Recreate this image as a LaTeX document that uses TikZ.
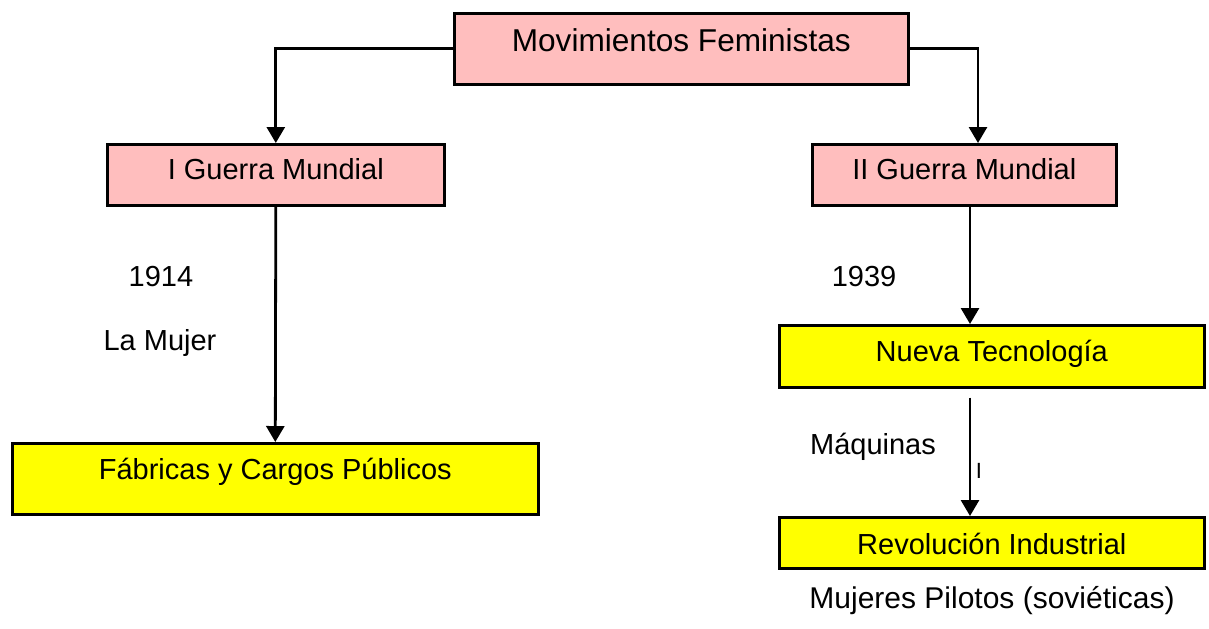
\documentclass[tikz,border=0pt]{standalone}
\usepackage{fontspec}
\setmainfont{Liberation Sans}
\usetikzlibrary{arrows.meta}

\definecolor{rosa}{RGB}{255,190,190}
\definecolor{amarillo}{RGB}{255,255,0}

\begin{document}
\begin{tikzpicture}[x=0.5pt,y=-0.5pt,
box/.style = {draw, line width=1.3pt, inner sep=0pt, anchor=north west, align=center, font=\fontsize{14.5}{17}\selectfont},
pinkbox/.style = {box, fill=rosa},
yellowbox/.style = {box, fill=amarillo},
note/.style = {font=\fontsize{14.5}{17}\selectfont},
link/.style = {line width=1.4pt, -{Triangle[width=9pt,length=8pt]}}]
\useasboundingbox (0,0) rectangle (1209,628);
\node[pinkbox, minimum width=227pt, text height=19.15pt, text depth=16.35pt, font=\fontsize{15.8}{18}\selectfont] (mov) at (453,12) {Movimientos Feministas};
\node[pinkbox, minimum width=168.5pt, text height=17.7pt, text depth=12.8pt] (g1) at (106,143) {I Guerra Mundial};
\node[pinkbox, minimum width=152pt, text height=17.7pt, text depth=12.8pt] (g2) at (811,143) {II Guerra Mundial};
\node[yellowbox, minimum width=263pt, text height=18.2pt, text depth=17.3pt] (fab) at (11,442) {Fábricas y Cargos Públicos};
\node[yellowbox, minimum width=212.5pt, text height=18.2pt, text depth=12.8pt] (nt) at (778,324) {Nueva Tecnología};
\node[yellowbox, minimum width=212.5pt, text height=18.7pt, text depth=6.8pt] (rev) at (778,516) {Revolución Industrial};
% textos sueltos
\node[note] (y1914) at (161,277) {1914};
\node[note] (mujer) at (160,343) {La Mujer};
\node[note] (y1939) at (864,277) {1939};
\node[note] (maq) at (873,447) {Máquinas};
\node[font=\fontsize{11}{12}\selectfont] (marca) at (979,471) {I};
\node[note, font=\fontsize{15}{18}\selectfont] (pil) at (992,601) {Mujeres Pilotos (soviéticas)};
% flechas
\coordinate (der) at (978,0);
\coordinate (rx) at (970,0);
\draw[link] (mov.west) -| (g1.north);
\draw[link] (mov.east) -| (g2.north -| der);
\draw[link] (g1.south) -- (fab.north);
\draw[link] (g2.south -| rx) -- (nt.north -| rx);
\draw[link] ([yshift=-4.5pt]nt.south -| rx) -- (rev.north -| rx);
\end{tikzpicture}
\end{document}
